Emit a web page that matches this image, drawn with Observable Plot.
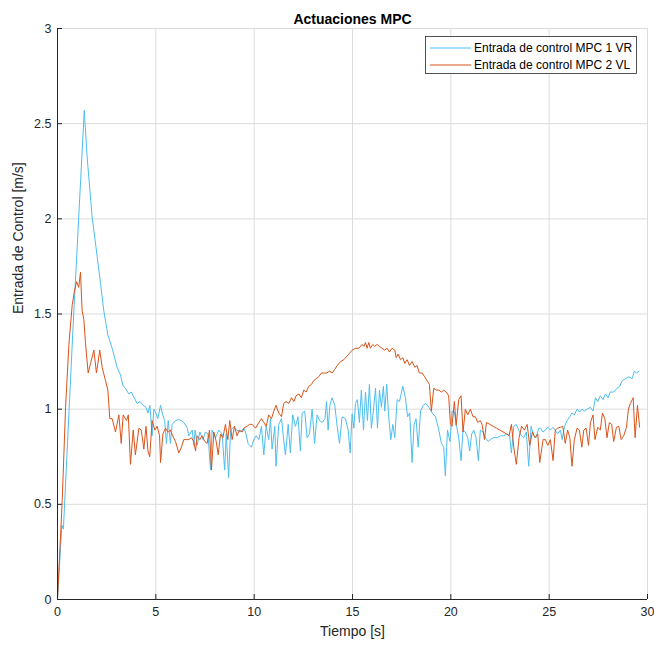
<!DOCTYPE html>
<html>
<head>
<meta charset="utf-8">
<script src="https://cdn.jsdelivr.net/npm/d3@7"></script>
<script src="https://cdn.jsdelivr.net/npm/@observablehq/plot@0.6"></script>
<style>
  html, body { margin: 0; padding: 0; background: #fff; }
  #chart { width: 654px; height: 645px; }
</style>
</head>
<body>
<div id="chart"></div>
<script>
const title = "Actuaciones MPC";
const xLabel = "Tiempo [s]";
const yLabel = "Entrada de Control [m/s]";
const seriesNames = ["Entrada de control MPC 1 VR", "Entrada de control MPC 2 VL"];
const xTicks = [0, 5, 10, 15, 20, 25, 30];
const yTicks = [0, 0.5, 1, 1.5, 2, 2.5, 3];

// Series 1 (VR): [time s, value m/s]
const vr = [[0,0],[0.22,0.39],[0.3,0.37],[0.8,1.45],[1.36,2.57],[1.51,2.32],[1.76,2.01],[2.02,1.80],[2.19,1.66],[2.35,1.52],[2.56,1.39],[2.78,1.32],[3.03,1.22],[3.2,1.18],[3.34,1.12],[3.45,1.11],[3.63,1.08],[3.75,1.09],[3.9,1.06],[4.05,1.03],[4.2,1.04],[4.35,1.02],[4.5,1.01],[4.6,0.98],[4.7,1.02],[4.81,0.86],[4.9,1.0],[5.0,0.98],[5.1,0.95],[5.24,1.02],[5.35,0.97],[5.45,0.94],[5.54,0.82],[5.63,0.94],[5.74,0.82],[5.83,0.92],[6.0,0.94],[6.17,0.945],[6.3,0.94],[6.42,0.93],[6.59,0.905],[6.68,0.86],[6.85,0.89],[6.93,0.81],[7.0,0.89],[7.1,0.81],[7.24,0.88],[7.4,0.84],[7.52,0.88],[7.65,0.87],[7.78,0.68],[7.86,0.89],[8.03,0.85],[8.2,0.89],[8.37,0.87],[8.5,0.68],[8.58,0.87],[8.7,0.64],[8.8,0.89],[8.95,0.905],[9.12,0.89],[9.3,0.88],[9.47,0.9],[9.56,0.88],[9.69,0.82],[9.86,0.80],[9.98,0.84],[10.1,0.86],[10.24,0.84],[10.37,0.91],[10.49,0.76],[10.61,0.91],[10.74,0.84],[10.83,0.95],[10.91,0.79],[11.05,0.91],[11.11,0.70],[11.25,0.92],[11.39,0.95],[11.5,0.84],[11.59,0.76],[11.73,0.92],[11.84,0.77],[11.96,0.97],[12.1,0.91],[12.23,0.96],[12.35,0.78],[12.44,0.98],[12.57,0.99],[12.69,0.85],[12.81,0.87],[12.95,1.0],[13.07,0.82],[13.2,0.97],[13.32,0.94],[13.46,0.93],[13.6,0.95],[13.68,1.04],[13.76,0.89],[13.85,1.02],[13.96,1.06],[14.1,1.02],[14.22,0.91],[14.34,0.82],[14.47,0.96],[14.64,0.95],[14.78,0.89],[14.88,0.77],[14.98,0.975],[15.07,0.90],[15.15,1.03],[15.25,1.05],[15.35,0.93],[15.45,1.10],[15.56,0.89],[15.66,1.09],[15.76,0.94],[15.86,1.13],[15.96,0.90],[16.06,0.99],[16.17,1.11],[16.27,0.90],[16.37,1.10],[16.47,1.01],[16.57,1.12],[16.64,0.99],[16.74,1.13],[16.84,0.96],[16.95,0.84],[17.05,0.92],[17.15,0.85],[17.27,1.05],[17.39,1.04],[17.56,1.12],[17.69,1.06],[17.8,0.96],[17.91,0.98],[18.03,0.72],[18.13,0.92],[18.23,0.95],[18.34,0.80],[18.46,0.99],[18.59,1.02],[18.74,1.03],[18.88,1.01],[19.05,0.98],[19.22,0.96],[19.39,0.89],[19.52,0.82],[19.64,0.80],[19.72,0.65],[19.83,0.89],[19.96,0.83],[20.06,0.99],[20.18,0.985],[20.28,0.92],[20.4,0.85],[20.52,0.73],[20.62,0.89],[20.74,0.88],[20.86,0.85],[20.96,0.78],[21.06,0.87],[21.17,0.89],[21.28,0.85],[21.4,0.73],[21.5,0.89],[21.64,0.88],[21.76,0.85],[21.9,0.83],[22.01,0.84],[22.18,0.85],[22.35,0.85],[22.52,0.86],[22.69,0.86],[22.86,0.87],[22.99,0.86],[23.08,0.77],[23.2,0.91],[23.33,0.92],[23.45,0.89],[23.59,0.86],[23.71,0.85],[23.84,0.88],[23.96,0.70],[24.08,0.91],[24.22,0.86],[24.33,0.85],[24.47,0.90],[24.56,0.90],[24.69,0.88],[24.81,0.89],[24.93,0.905],[25.06,0.89],[25.2,0.905],[25.31,0.89],[25.43,0.87],[25.57,0.89],[25.66,0.84],[25.78,0.91],[25.91,0.94],[26.05,0.96],[26.16,0.98],[26.28,0.97],[26.42,1.0],[26.55,0.985],[26.67,1.0],[26.79,0.99],[26.93,1.0],[27.1,1.01],[27.23,0.99],[27.35,1.06],[27.47,1.04],[27.6,1.07],[27.74,1.05],[27.86,1.08],[27.99,1.06],[28.1,1.09],[28.28,1.09],[28.45,1.11],[28.59,1.12],[28.71,1.15],[28.88,1.16],[29.05,1.17],[29.22,1.16],[29.33,1.20],[29.44,1.19],[29.57,1.20]];

// Series 2 (VL): [time s, value m/s]
const vl = [[0,0],[0.12,0.26],[0.24,0.52],[0.41,1.01],[0.58,1.34],[0.75,1.55],[0.86,1.62],[0.97,1.67],[1.08,1.64],[1.17,1.72],[1.25,1.52],[1.34,1.47],[1.42,1.35],[1.56,1.19],[1.68,1.24],[1.85,1.31],[1.98,1.19],[2.15,1.31],[2.27,1.22],[2.44,1.15],[2.56,1.10],[2.66,0.95],[2.78,0.95],[2.95,0.88],[3.12,0.97],[3.24,0.82],[3.34,0.97],[3.51,0.94],[3.6,0.97],[3.71,0.71],[3.85,0.89],[3.96,0.76],[4.14,0.90],[4.26,0.89],[4.39,0.79],[4.5,0.91],[4.6,0.78],[4.69,0.75],[4.81,0.94],[4.95,0.89],[5.07,0.91],[5.19,0.86],[5.24,0.72],[5.36,0.87],[5.49,0.90],[5.63,0.88],[5.74,0.89],[5.86,0.86],[6.0,0.83],[6.17,0.77],[6.3,0.80],[6.42,0.84],[6.54,0.84],[6.68,0.84],[6.81,0.85],[6.93,0.83],[7.02,0.78],[7.1,0.86],[7.24,0.84],[7.35,0.86],[7.49,0.83],[7.61,0.82],[7.73,0.89],[7.83,0.68],[7.95,0.88],[8.07,0.83],[8.17,0.76],[8.29,0.87],[8.41,0.85],[8.54,0.92],[8.66,0.84],[8.76,0.94],[8.88,0.84],[9.0,0.91],[9.13,0.86],[9.25,0.89],[9.39,0.88],[9.52,0.905],[9.64,0.91],[9.76,0.92],[9.9,0.92],[10.07,0.90],[10.24,0.93],[10.37,0.95],[10.49,0.93],[10.61,0.91],[10.74,0.97],[10.88,0.95],[11.0,0.99],[11.11,1.02],[11.25,0.98],[11.39,0.96],[11.5,1.03],[11.62,1.04],[11.76,1.03],[11.9,1.06],[12.02,1.04],[12.13,1.07],[12.27,1.08],[12.4,1.06],[12.52,1.10],[12.64,1.09],[12.78,1.12],[12.91,1.13],[13.03,1.15],[13.15,1.16],[13.28,1.17],[13.42,1.19],[13.56,1.19],[13.69,1.19],[13.83,1.20],[13.96,1.19],[14.1,1.21],[14.23,1.23],[14.39,1.25],[14.56,1.26],[14.73,1.28],[14.9,1.30],[14.98,1.31],[15.15,1.32],[15.32,1.32],[15.49,1.34],[15.58,1.33],[15.66,1.35],[15.74,1.32],[15.83,1.35],[15.91,1.32],[16.03,1.34],[16.13,1.33],[16.25,1.34],[16.37,1.33],[16.5,1.32],[16.64,1.31],[16.76,1.32],[16.88,1.30],[17.01,1.32],[17.15,1.31],[17.22,1.27],[17.32,1.29],[17.44,1.26],[17.56,1.27],[17.66,1.24],[17.78,1.26],[17.9,1.23],[18.03,1.25],[18.17,1.22],[18.28,1.23],[18.4,1.19],[18.54,1.19],[18.67,1.17],[18.79,1.15],[18.91,1.13],[19.01,0.99],[19.13,1.11],[19.25,1.10],[19.39,1.10],[19.52,1.09],[19.64,1.10],[19.77,1.09],[19.89,1.07],[19.98,0.92],[20.06,0.91],[20.18,1.04],[20.27,0.915],[20.4,1.05],[20.52,1.07],[20.62,0.88],[20.74,1.0],[20.86,0.97],[20.99,1.0],[21.13,0.96],[21.25,0.96],[21.37,0.93],[21.5,0.94],[21.59,0.92],[21.71,0.84],[21.81,0.93],[21.98,0.92],[22.15,0.91],[22.32,0.90],[22.49,0.89],[22.66,0.88],[22.83,0.87],[22.96,0.86],[23.08,0.92],[23.2,0.80],[23.33,0.71],[23.47,0.85],[23.6,0.91],[23.74,0.89],[23.88,0.92],[24.01,0.81],[24.15,0.88],[24.28,0.85],[24.42,0.87],[24.52,0.72],[24.69,0.84],[24.81,0.84],[24.93,0.81],[25.06,0.84],[25.2,0.73],[25.31,0.89],[25.43,0.90],[25.57,0.905],[25.69,0.91],[25.82,0.82],[25.94,0.89],[26.05,0.85],[26.16,0.70],[26.28,0.84],[26.42,0.90],[26.54,0.89],[26.66,0.80],[26.76,0.89],[26.88,0.90],[27.0,0.81],[27.1,0.93],[27.23,0.97],[27.33,0.84],[27.47,0.905],[27.6,0.89],[27.71,0.98],[27.83,0.95],[27.94,0.85],[28.06,0.93],[28.18,0.92],[28.28,0.83],[28.42,0.905],[28.54,0.91],[28.66,0.84],[28.79,0.86],[28.93,0.905],[29.03,1.0],[29.13,1.03],[29.27,1.06],[29.37,0.85],[29.49,1.02],[29.6,0.905]];

const colors = ["#4DBEEE", "#D95319"];
const font = "'Liberation Sans', Arial, Helvetica, sans-serif";
const ink = "#262626";

const W = 654, H = 645;
const mL = 57, mR = 7, mT = 28, mB = 46;
const plotW = W - mL - mR, plotH = H - mT - mB;

const chart = Plot.plot({
  width: W,
  height: H,
  marginLeft: mL,
  marginRight: mR,
  marginTop: mT,
  marginBottom: mB,
  style: { fontFamily: font, background: "#fff", overflow: "visible" },
  x: { domain: [0, 30], ticks: xTicks },
  y: { domain: [0, 3], ticks: yTicks },
  marks: [
    Plot.gridX(xTicks, { stroke: "#dcdcdc", strokeOpacity: 1, strokeWidth: 1 }),
    Plot.gridY(yTicks, { stroke: "#dcdcdc", strokeOpacity: 1, strokeWidth: 1 }),
    Plot.tickX(xTicks, { x: d => d, stroke: ink, insetTop: plotH - 5 }),
    Plot.tickY(yTicks, { y: d => d, stroke: ink, insetRight: plotW - 5 }),
    Plot.line(vr, { x: d => d[0], y: d => d[1], stroke: colors[0], strokeWidth: 1 }),
    Plot.line(vl, { x: d => d[0], y: d => d[1], stroke: colors[1], strokeWidth: 1 }),
    Plot.ruleX([0], { stroke: ink, strokeWidth: 1 }),
    Plot.ruleY([0], { stroke: ink, strokeWidth: 1 }),
    Plot.axisX(xTicks, { tickSize: 0, tickPadding: 8, fontSize: 12.5, fill: ink, label: null }),
    Plot.axisY(yTicks, { tickSize: 0, tickPadding: 6, fontSize: 12.5, fill: ink, label: null,
      tickFormat: d => String(d) }),
    Plot.text([xLabel], { frameAnchor: "bottom", dy: 36, fontSize: 14, fill: ink, text: d => d }),
    Plot.text([yLabel], { frameAnchor: "left", dx: -39, rotate: -90, fontSize: 14, fill: ink, text: d => d }),
    Plot.text([title], { frameAnchor: "top", dy: -14, fontSize: 14, fontWeight: "bold", fill: "#000", text: d => d })
  ]
});

// Legend (top-right inside plot area)
const svg = d3.select(chart);
const lg = svg.append("g").attr("font-family", font).attr("font-size", 12).attr("text-anchor", "start");
lg.append("rect").attr("x", 425.5).attr("y", 36.5).attr("width", 211).attr("height", 37)
  .attr("fill", "#fff").attr("stroke", ink).attr("stroke-width", 0.8);
seriesNames.forEach((name, i) => {
  const y = 48 + i * 17;
  lg.append("line").attr("x1", 430).attr("x2", 471).attr("y1", y).attr("y2", y)
    .attr("stroke", colors[i]).attr("stroke-width", 1);
  lg.append("text").attr("x", 474).attr("y", y).attr("dy", "0.35em")
    .attr("text-anchor", "start").attr("fill", "#000").text(name);
});

document.getElementById("chart").appendChild(chart);
</script>
</body>
</html>
